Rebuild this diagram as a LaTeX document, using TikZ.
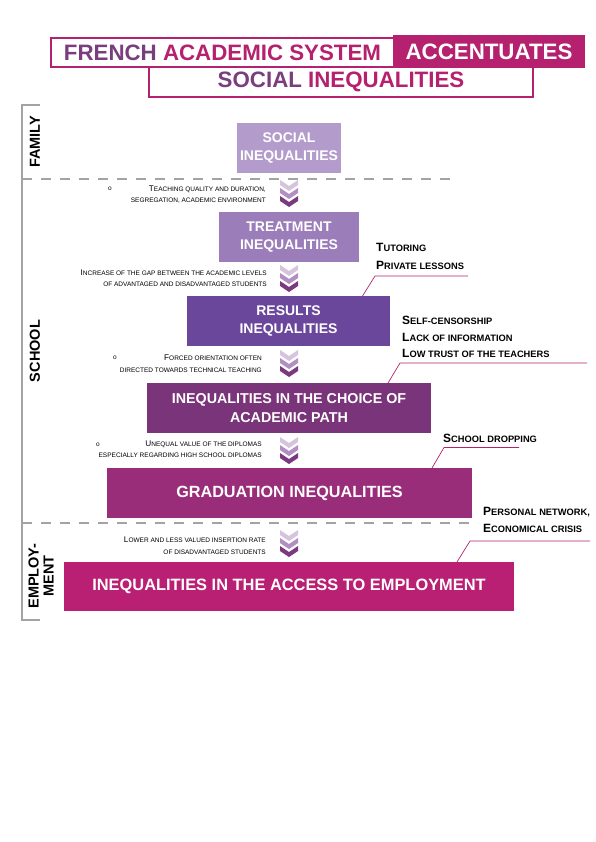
\documentclass[tikz,border=0pt]{standalone}
\usepackage{fontspec}
\setmainfont{Liberation Sans}
\usetikzlibrary{positioning}

\definecolor{titlepurple}{HTML}{7A3E7E}
\definecolor{titlemag}{HTML}{B5216F}
\definecolor{boxA}{HTML}{B39CCB}
\definecolor{boxB}{HTML}{9B7DB9}
\definecolor{boxC}{HTML}{6A479B}
\definecolor{boxD}{HTML}{7A3479}
\definecolor{boxE}{HTML}{9A2D79}
\definecolor{boxF}{HTML}{B91F73}
\definecolor{chevA}{HTML}{D6C4DF}
\definecolor{chevB}{HTML}{B28FC2}
\definecolor{chevC}{HTML}{7C3A7E}
\definecolor{rulegray}{HTML}{A3A3A3}

\newcommand{\lcap}[1]{{\fontsize{8.2}{8.2}\selectfont #1}}
\newcommand{\rcap}[1]{{\fontsize{12}{12}\selectfont #1}}

\begin{document}
\begin{tikzpicture}[
    x=1pt, y=-1pt,
    ibox/.style={fill=#1, text=white, align=center, inner sep=0pt,
                 font=\bfseries\fontsize{14}{18}\selectfont},
    tbox/.style={draw=titlemag, line width=2pt, inner sep=0pt,
                 font=\bfseries\fontsize{22.3}{24}\selectfont},
    side/.style={rotate=90, align=center, inner sep=0pt,
                 font=\bfseries\fontsize{14.5}{15}\selectfont},
    lnote/.style={anchor=base east, inner sep=0pt, font=\fontsize{6.5}{7}\selectfont},
    rnote/.style={anchor=base west, inner sep=0pt, font=\bfseries\fontsize{9.3}{10}\selectfont},
    bul/.style={inner sep=0pt, font=\fontsize{6.5}{7}\selectfont},
    rule/.style={draw=rulegray, line width=2.5pt},
    split/.style={draw=rulegray, line width=2.5pt, dash pattern=on 10pt off 9pt},
    link/.style={draw=titlemag, line width=0.7pt}
]
\path[fill=white] (0,0) rectangle (596,842);

\node[tbox, minimum width=343pt, minimum height=29pt, anchor=north west] (tleft) at (50,37)
  {\textcolor{titlepurple}{FRENCH} \textcolor{titlemag}{ACADEMIC SYSTEM}};
\node[tbox, fill=titlemag, text=white, minimum width=190pt, minimum height=31pt, anchor=north west] (tright) at (393,35)
  {ACCENTUATES};
\node[tbox, minimum width=384pt, minimum height=30pt, anchor=north west] (tbottom) at (148,66)
  {\textcolor{titlepurple}{SOCIAL} \textcolor{titlemag}{INEQUALITIES}};

\draw[rule] (40,105) -- (22,105) -- (22,620) -- (40,620);
\draw[split] (22,179) -- (455,179);
\draw[split] (22,523) -- (478,523);

\node[side] (family) at (35,142) {FAMILY};
\node[side] (school) at (35,351) {SCHOOL};
\node[side] (employ) at (41,576) {EMPLOY-\\MENT};

\node[ibox=boxA, minimum width=104pt, minimum height=50pt] (social) at (289,148) {SOCIAL\\INEQUALITIES};
\node[ibox=boxB, minimum width=140pt, minimum height=50pt] (treat) at (289,237) {TREATMENT\\INEQUALITIES};
\node[ibox=boxC, minimum width=203pt, minimum height=50pt] (results) at (288.5,321) {RESULTS\\INEQUALITIES};
\node[ibox=boxD, minimum width=284pt, minimum height=50pt, font=\bfseries\fontsize{14.3}{19}\selectfont] (choice) at (289,408) {INEQUALITIES IN THE CHOICE OF\\ACADEMIC PATH};
\node[ibox=boxE, minimum width=365pt, minimum height=50pt, font=\bfseries\fontsize{16.2}{18}\selectfont] (grad) at (289.5,493) {GRADUATION INEQUALITIES};
\node[ibox=boxF, minimum width=450pt, minimum height=49pt, font=\bfseries\fontsize{16.4}{18}\selectfont] (access) at (289,586.5) {INEQUALITIES IN THE ACCESS TO EMPLOYMENT};

\foreach \y in {180,265,350,437,530}
  \foreach \k/\c in {0/chevA,8/chevB,16/chevC}
    \fill[\c] (280,\y+\k) -- (289,\y+\k+6) -- (298,\y+\k) -- (298,\y+\k+5)
      -- (289,\y+\k+11) -- (280,\y+\k+5) -- cycle;

\node[bul] (bulA) at (110,189) {o};
\node[lnote] (teachA) at (266,191.5) {\lcap{T}EACHING QUALITY AND DURATION,};
\node[lnote] (teachB) at (266,203) {SEGREGATION, ACADEMIC ENVIRONMENT};

\node[lnote] (gapA) at (267,275) {\lcap{I}NCREASE OF THE GAP BETWEEN THE ACADEMIC LEVELS};
\node[lnote] (gapB) at (267,286) {OF ADVANTAGED AND DISADVANTAGED STUDENTS};

\node[bul] (bulC) at (115,358) {o};
\node[lnote] (forcedA) at (262,360) {\lcap{F}ORCED ORIENTATION OFTEN};
\node[lnote] (forcedB) at (262,372.5) {DIRECTED TOWARDS TECHNICAL TEACHING};

\node[bul] (bulD) at (98,445) {o};
\node[lnote] (diplA) at (262,446.5) {\lcap{U}NEQUAL VALUE OF THE DIPLOMAS};
\node[lnote] (diplB) at (262,457.5) {ESPECIALLY REGARDING HIGH SCHOOL DIPLOMAS};

\node[lnote] (lowerA) at (266,542) {\lcap{L}OWER AND LESS VALUED INSERTION RATE};
\node[lnote] (lowerB) at (266,554) {OF DISADVANTAGED STUDENTS};

\node[rnote] (tutA) at (376,251.5) {\rcap{T}UTORING};
\node[rnote] (tutB) at (376,269) {\rcap{P}RIVATE LESSONS};
\coordinate (tutFoot) at (362.5,296);
\coordinate (tutKnee) at (375,276);
\coordinate (tutEnd) at (468,276);
\draw[link] (tutFoot) -- (tutKnee) -- (tutEnd);

\node[rnote] (selfA) at (402,324) {\rcap{S}ELF-CENSORSHIP};
\node[rnote] (selfB) at (402,341) {\rcap{L}ACK OF INFORMATION};
\node[rnote] (selfC) at (402,357) {\rcap{L}OW TRUST OF THE TEACHERS};
\coordinate (selfFoot) at (388,383);
\coordinate (selfKnee) at (400,363);
\coordinate (selfEnd) at (587,363);
\draw[link] (selfFoot) -- (selfKnee) -- (selfEnd);

\node[rnote] (drop) at (443,442) {\rcap{S}CHOOL DROPPING};
\coordinate (dropFoot) at (432,468);
\coordinate (dropKnee) at (444,447.5);
\coordinate (dropEnd) at (519,447.5);
\draw[link] (dropFoot) -- (dropKnee) -- (dropEnd);

\node[rnote] (netA) at (483,515) {\rcap{P}ERSONAL NETWORK,};
\node[rnote] (netB) at (483,532) {\rcap{E}CONOMICAL CRISIS};
\coordinate (netFoot) at (457,562);
\coordinate (netKnee) at (470,541);
\coordinate (netEnd) at (590,541);
\draw[link] (netFoot) -- (netKnee) -- (netEnd);

\end{tikzpicture}
\end{document}
